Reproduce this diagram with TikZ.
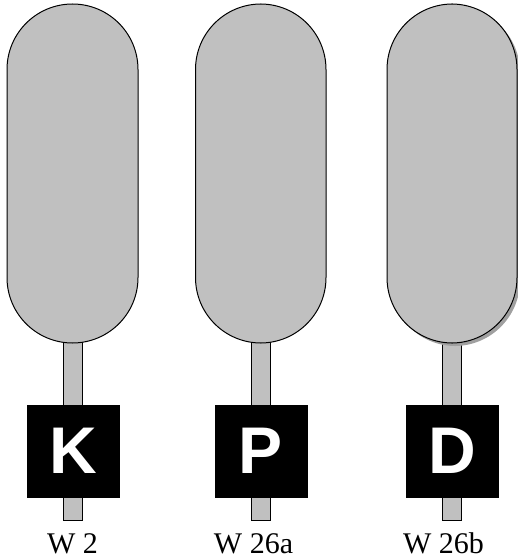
\documentclass[tikz,border=0pt]{standalone}
\usepackage{fontspec}
\setmainfont{Liberation Serif}
\newfontfamily\boxfont{Liberation Sans}
\definecolor{capgray}{RGB}{192,192,192}
\definecolor{shadowgray}{RGB}{160,160,160}
\tikzset{
  capsule/.style={draw=black, line width=1pt, fill=capgray, rounded corners=65.5pt},
  stem/.style={draw=black, line width=0.8pt, fill=capgray},
  markbox/.style={fill=black, draw=black, minimum width=92pt, minimum height=92pt, inner sep=0pt,
    text=white, font=\boxfont\bfseries\fontsize{66}{66}\selectfont},
  lbl/.style={anchor=base, inner sep=0pt, text depth=0pt, font=\fontsize{30}{30}\selectfont}
}
\begin{document}
\begin{tikzpicture}[x=1pt,y=-1pt]
\useasboundingbox (0,0) rectangle (518,559);
% stems
\draw[stem] (63,340) rectangle (82,520);
\draw[stem] (251.5,340) rectangle (270,520);
\draw[stem] (442,340) rectangle (461,520);
% capsules
\fill[shadowgray, rounded corners=65.5pt] (390,7) rectangle (520,346);
\draw[capsule] (7,4) rectangle (138,343);
\draw[capsule] (195.5,4) rectangle (326,343);
\draw[capsule] (387,4) rectangle (517,343);
% boxes
\node[markbox] (k) at (73,451) {K};
\node[markbox] (p) at (261,451) {P};
\node[markbox] (d) at (452,451) {D};
% labels
\node[lbl] (l1) at (72.5,553.5) {W 2};
\node[lbl] (l2) at (253.5,553.5) {W 26a};
\node[lbl] (l3) at (443.5,553.5) {W 26b};
\end{tikzpicture}
\end{document}
